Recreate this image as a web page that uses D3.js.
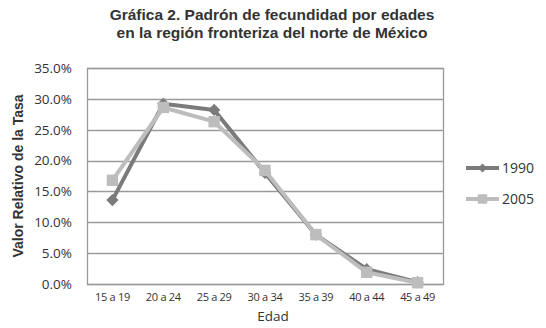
<!DOCTYPE html>
<html>
<head>
<meta charset="utf-8">
<script src="https://cdn.jsdelivr.net/npm/d3@7"></script>
<style>
  body { margin: 0; background: #fff; }
  text { font-family: "Liberation Sans", Arial, sans-serif; }
</style>
</head>
<body>
<script>
const ages = ['15 a 19', '20 a 24', '25 a 29', '30 a 34', '35 a 39', '40 a 44', '45 a 49'];
const values1990 = [13.6, 29.2, 28.2, 18.0, 8.0, 2.4, 0.3];
const values2005 = [16.8, 28.6, 26.3, 18.4, 8.0, 1.9, 0.2];
const yTicks = [0, 5, 10, 15, 20, 25, 30, 35];
const titleLines = ['Gráfica 2. Padrón de fecundidad por edades', 'en la región fronteriza del norte de México'];

const width = 546, height = 328;
const margin = { top: 68, right: 103, bottom: 44, left: 87 };

// diamond = square turned 45deg
const series = [
  { name: '1990', values: values1990, color: '#7b7b7b', shape: d3.symbolSquare, rot: 45, size: 75, legendSize: 40 },
  { name: '2005', values: values2005, color: '#bdbdbd', shape: d3.symbolSquare, rot: 0, size: 130, legendSize: 90 }
];

const svg = d3.select('body').append('svg')
  .attr('width', width)
  .attr('height', height);

const x = d3.scaleBand()
  .domain(ages)
  .range([margin.left, width - margin.right]);

const y = d3.scaleLinear()
  .domain([0, 35])
  .range([height - margin.bottom, margin.top]);

// title
svg.append('g').selectAll('text')
  .data(titleLines)
  .join('text')
  .attr('x', 272)
  .attr('y', (d, i) => 20 + i * 18)
  .attr('text-anchor', 'middle')
  .style('font-size', '15.5px')
  .style('font-weight', 'bold')
  .style('fill', '#333')
  .text(d => d);

// gridlines
svg.append('g')
  .selectAll('line')
  .data(yTicks)
  .join('line')
  .attr('x1', margin.left)
  .attr('x2', width - margin.right)
  .attr('y1', d => Math.round(y(d)) + 0.5)
  .attr('y2', d => Math.round(y(d)) + 0.5)
  .attr('stroke', '#9a9a9a')
  .attr('stroke-width', 1.3);

// plot frame
svg.append('rect')
  .attr('x', margin.left + 0.5)
  .attr('y', Math.round(y(35)) + 0.5)
  .attr('width', width - margin.right - margin.left)
  .attr('height', Math.round(y(0)) - Math.round(y(35)))
  .attr('fill', 'none')
  .attr('stroke', '#9a9a9a')
  .attr('stroke-width', 1.3);

// y axis labels
const yAxis = svg.append('g')
  .attr('transform', `translate(${margin.left},0)`)
  .call(d3.axisLeft(y).tickValues(yTicks).tickSize(0).tickPadding(15).tickFormat(d => d.toFixed(1) + '%'));
yAxis.select('.domain').remove();
yAxis.selectAll('text')
  .style('font-family', '"Open Sans", "Liberation Sans", sans-serif')
  .style('font-size', '13.5px')
  .style('fill', '#333');

// x axis labels
const xAxis = svg.append('g')
  .attr('transform', `translate(0,${height - margin.bottom})`)
  .call(d3.axisBottom(x).tickSize(0).tickPadding(9));
xAxis.select('.domain').remove();
xAxis.selectAll('text')
  .style('font-family', '"Open Sans", "Liberation Sans", sans-serif')
  .style('font-size', '11px')
  .style('letter-spacing', '-0.3px')
  .style('fill', '#333');

// axis titles
svg.append('text')
  .attr('x', 273)
  .attr('y', 321)
  .attr('text-anchor', 'middle')
  .style('font-family', '"Open Sans", "Liberation Sans", sans-serif')
  .style('font-size', '13.5px')
  .style('fill', '#333')
  .text('Edad');

svg.append('text')
  .attr('transform', `translate(23,${(y(0) + y(35)) / 2}) rotate(-90)`)
  .attr('text-anchor', 'middle')
  .style('font-size', '14px')
  .style('font-weight', 'bold')
  .style('fill', '#333')
  .text('Valor Relativo de la Tasa');

// lines + markers
const line = d3.line()
  .x((d, i) => x(ages[i]) + x.bandwidth() / 2)
  .y(d => y(d));

series.forEach(s => {
  svg.append('path')
    .datum(s.values)
    .attr('d', line)
    .attr('fill', 'none')
    .attr('stroke', s.color)
    .attr('stroke-width', 4)
    .attr('stroke-linejoin', 'round');

  svg.append('g').selectAll('path')
    .data(s.values)
    .join('path')
    .attr('transform', (d, i) => `translate(${x(ages[i]) + x.bandwidth() / 2},${y(d)}) rotate(${s.rot})`)
    .attr('d', d3.symbol().type(s.shape).size(s.size))
    .attr('fill', s.color);
});

// legend
const legend = svg.append('g')
  .selectAll('g')
  .data(series)
  .join('g')
  .attr('transform', (d, i) => `translate(466,${168 + i * 31})`);

legend.append('line')
  .attr('x1', 0)
  .attr('x2', 33)
  .attr('stroke', d => d.color)
  .attr('stroke-width', 4);

legend.append('path')
  .attr('transform', d => `translate(16.5,0) rotate(${d.rot})`)
  .attr('d', d => d3.symbol().type(d.shape).size(d.legendSize)())
  .attr('fill', d => d.color);

legend.append('text')
  .attr('x', 36)
  .attr('y', 5)
  .style('font-family', '"Open Sans", "Liberation Sans", sans-serif')
  .style('font-size', '14px')
  .style('fill', '#333')
  .text(d => d.name);
</script>
</body>
</html>
